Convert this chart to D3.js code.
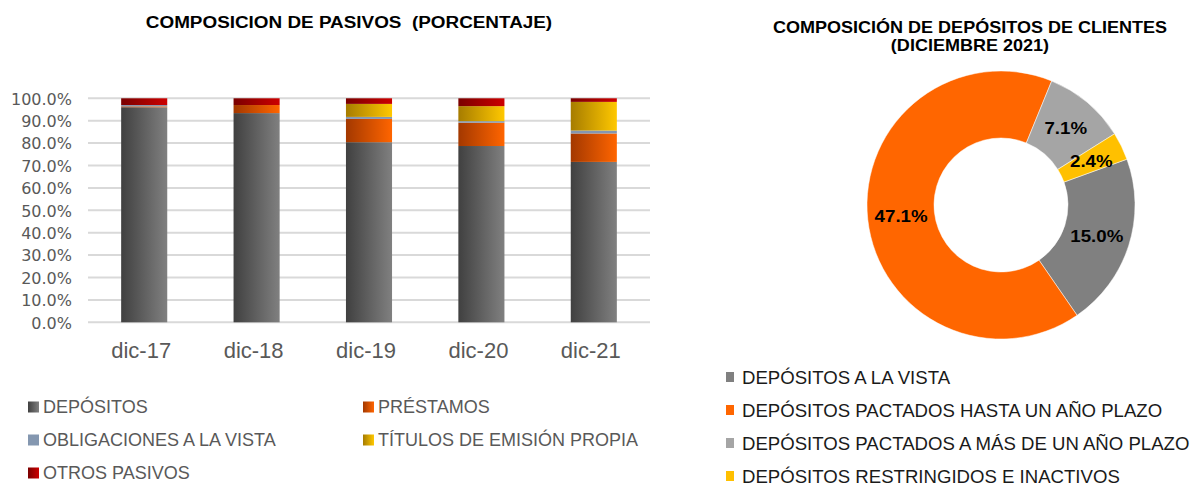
<!DOCTYPE html>
<html>
<head>
<meta charset="utf-8">
<script src="https://cdn.jsdelivr.net/npm/d3@7"></script>
<style>
  body { margin: 0; background: #fff; }
  text { font-family: "Liberation Sans", Arial, sans-serif; white-space: pre; }
</style>
</head>
<body>
<svg id="chart" width="1196" height="487"></svg>
<script>
// ---- data: composicion de pasivos (%)
var years = ["dic-17", "dic-18", "dic-19", "dic-20", "dic-21"];
var seriesNames = ["DEPÓSITOS", "PRÉSTAMOS", "OBLIGACIONES A LA VISTA", "TÍTULOS DE EMISIÓN PROPIA", "OTROS PASIVOS"];
var depositos     = [96.0, 93.4, 80.4, 78.7, 71.6];
var prestamos     = [0.4, 3.6, 10.4, 10.4, 12.7];
var obligaciones  = [0.6, 0.0, 0.9, 0.7, 1.3];
var titulos       = [0.0, 0.0, 5.8, 6.7, 12.8];
var otros         = [3.0, 3.0, 2.5, 3.5, 1.6];
var yTicks = [0, 10, 20, 30, 40, 50, 60, 70, 80, 90, 100];

// ---- data: composicion de depositos (dic 2021)
var depNames = ["DEPÓSITOS A LA VISTA", "DEPÓSITOS PACTADOS HASTA UN AÑO PLAZO", "DEPÓSITOS PACTADOS A MÁS DE UN AÑO PLAZO", "DEPÓSITOS RESTRINGIDOS E INACTIVOS"];
var depValues = [15.0, 47.1, 7.1, 2.4];

var svg = d3.select("#chart");
var defs = svg.append("defs");

// squeeze / stretch text horizontally by a factor
function stretch(sel, f) {
  sel.each(function() {
    var w = this.getComputedTextLength();
    d3.select(this).attr("textLength", w * f).attr("lengthAdjust", "spacingAndGlyphs");
  });
}

// gradients for the bars (dark left -> light right)
var barGrads = [["#404040", "#808080"], ["#a33800", "#ff6500"], ["#8497b0", "#8497b0"], ["#a67c00", "#ffc800"], ["#7a0000", "#cc0000"]];
barGrads.forEach(function(c, i) {
  var g = defs.append("linearGradient").attr("id", "g" + i)
    .attr("x1", "0%").attr("x2", "100%").attr("y1", "0%").attr("y2", "0%");
  g.append("stop").attr("offset", "0%").attr("stop-color", c[0]);
  g.append("stop").attr("offset", "100%").attr("stop-color", c[1]);
});

// ================= left chart =================
svg.append("text").attr("x", 349).attr("y", 28).attr("text-anchor", "middle")
  .style("font-weight", "bold").style("font-size", "16px").attr("fill", "#000")
  .text("COMPOSICION DE PASIVOS  (PORCENTAJE)")
  .call(stretch, 1.18);

var x = d3.scaleBand().domain(years).range([88, 650]).paddingInner(0.59).paddingOuter(0.295);
var y = d3.scaleLinear().domain([0, 100]).range([322.3, 98.3]);

var grid = svg.append("g");
grid.selectAll("line").data(yTicks).enter().append("line")
  .attr("x1", 88).attr("x2", 650)
  .attr("y1", function(d) { return y(d); }).attr("y2", function(d) { return y(d); })
  .attr("stroke", "#d9d9d9").attr("stroke-width", 2);

var yAxis = svg.append("g").attr("transform", "translate(72,0)")
  .call(d3.axisLeft(y).tickValues(yTicks).tickSize(0).tickPadding(0).tickFormat(function(d) { return d.toFixed(1) + "%"; }));
yAxis.select(".domain").remove();
yAxis.selectAll("text").style("font-family", "'DejaVu Sans', sans-serif").style("font-size", "16px")
  .attr("fill", "#595959").attr("dy", "0.36em");

var xAxis = svg.append("g").attr("transform", "translate(-3,322)")
  .call(d3.axisBottom(x).tickSize(0).tickPadding(24));
xAxis.select(".domain").remove();
xAxis.selectAll("text").style("font-size", "22px").attr("fill", "#595959").attr("dy", "0.55em");

var table = years.map(function(yr, i) {
  return { year: yr, s0: depositos[i], s1: prestamos[i], s2: obligaciones[i], s3: titulos[i], s4: otros[i] };
});
var stack = d3.stack().keys(["s0", "s1", "s2", "s3", "s4"])(table);

svg.append("g").selectAll("g").data(stack).enter().append("g")
  .attr("fill", function(d, i) { return "url(#g" + i + ")"; })
  .selectAll("rect").data(function(d) { return d; }).enter().append("rect")
  .attr("x", function(d) { return x(d.data.year); })
  .attr("width", x.bandwidth())
  .attr("y", function(d) { return y(d[1]); })
  .attr("height", function(d) { return Math.max(0, y(d[0]) - y(d[1])); });

// left legend
var legPos = [[28, 407], [363, 407], [28, 440], [363, 440], [28, 473]];
var leg = svg.append("g").selectAll("g").data(seriesNames).enter().append("g")
  .attr("transform", function(d, i) { return "translate(" + legPos[i][0] + "," + legPos[i][1] + ")"; });
leg.append("rect").attr("x", 0).attr("y", -5.5).attr("width", 11).attr("height", 11)
  .attr("fill", function(d, i) { return "url(#g" + i + ")"; });
leg.append("text").attr("x", 15).attr("dy", "0.36em").style("font-size", "18px").attr("fill", "#595959")
  .text(function(d) { return d; });

// ================= right chart =================
var rt = svg.append("text").attr("text-anchor", "middle").style("font-weight", "bold").style("font-size", "17px").attr("fill", "#000");
rt.append("tspan").attr("x", 970).attr("y", 33).text("COMPOSICIÓN DE DEPÓSITOS DE CLIENTES");
rt.append("tspan").attr("x", 970).attr("y", 51).text("(DICIEMBRE 2021)");
rt.selectAll("tspan").call(stretch, 1.06);

var depColors = ["#808080", "#ff6600", "#a5a5a5", "#ffc000"];
var start = 70 * Math.PI / 180;
var pie = d3.pie().sort(null).startAngle(start).endAngle(start + 2 * Math.PI);
var arc = d3.arc().innerRadius(67).outerRadius(134);
var donut = svg.append("g").attr("transform", "translate(1001,205)");
var arcs = pie(depValues);
donut.selectAll("path").data(arcs).enter().append("path")
  .attr("d", arc).attr("fill", function(d, i) { return depColors[i]; })
  .attr("stroke", "#fff").attr("stroke-width", 0.5);
donut.selectAll("text").data(arcs).enter().append("text")
  .attr("transform", function(d) { return "translate(" + arc.centroid(d) + ")"; })
  .attr("text-anchor", "middle").attr("dy", "0.36em")
  .style("font-weight", "bold").style("font-size", "17px").attr("fill", "#000")
  .text(function(d) { return d.data.toFixed(1) + "%"; })
  .call(stretch, 1.1);

var rleg = svg.append("g").selectAll("g").data(depNames).enter().append("g")
  .attr("transform", function(d, i) { return "translate(726," + (377 + i * 33) + ")"; });
rleg.append("rect").attr("x", 0).attr("y", -5).attr("width", 8).attr("height", 10)
  .attr("fill", function(d, i) { return depColors[i]; });
rleg.append("text").attr("x", 16).attr("dy", "0.36em").style("font-size", "18.6px").attr("fill", "#1a1a1a")
  .text(function(d) { return d; });
</script>
</body>
</html>
